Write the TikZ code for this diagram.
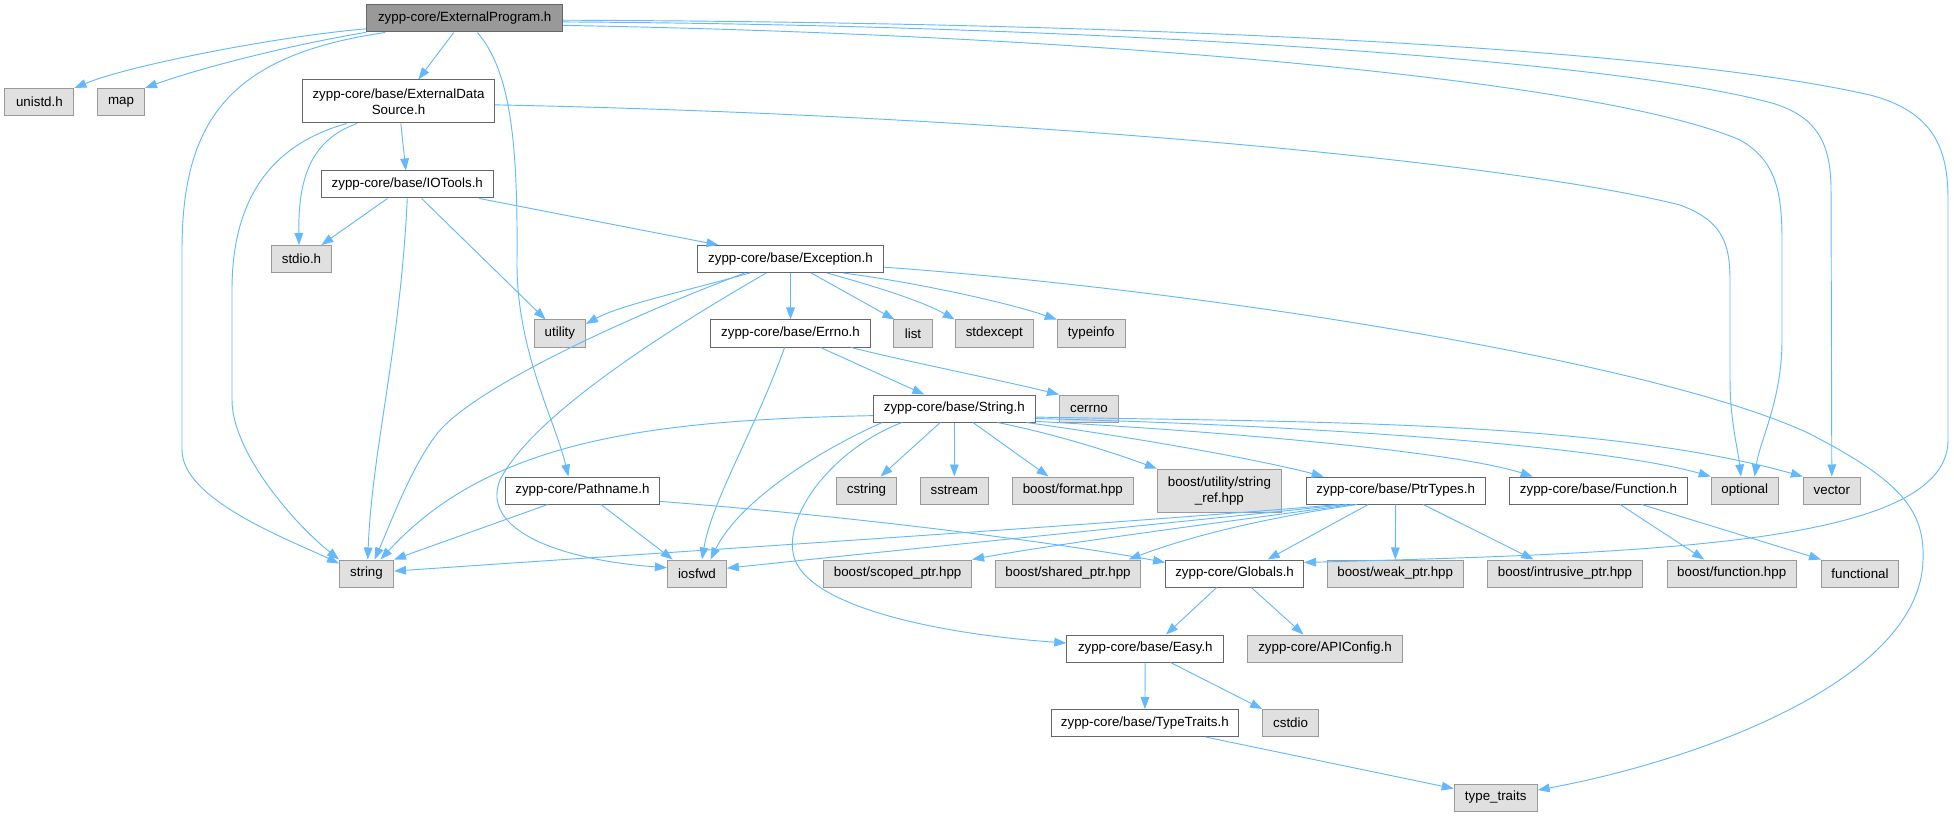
\documentclass[tikz,border=0pt]{standalone}
\usepackage{fontspec}
\setmainfont{Liberation Sans}
\usetikzlibrary{arrows.meta}
\definecolor{edgeblue}{HTML}{63B8FF}
\definecolor{rootfill}{HTML}{999999}
\definecolor{sysfill}{HTML}{E0E0E0}
\definecolor{hdrline}{HTML}{666666}
\definecolor{sysline}{HTML}{999999}
\tikzstyle{incgraph}=[x=0.75pt, y=-0.75pt, font=\fontsize{10}{12}\selectfont]
\tikzstyle{fnode}=[rectangle, inner sep=0pt, minimum height=20.25pt, align=center, line width=0.75pt]
\tikzstyle{root}=[fnode, draw=hdrline, fill=rootfill]
\tikzstyle{hdr}=[fnode, draw=hdrline, fill=white]
\tikzstyle{sys}=[fnode, draw=sysline, fill=sysfill]
\tikzstyle{twoline}=[minimum height=32.25pt]
\tikzstyle{inc}=[draw=edgeblue, line width=0.7pt, -{Triangle[length=9pt, width=6.5pt]}]

\begin{document}
\begin{tikzpicture}[incgraph]
		\useasboundingbox (0,0) rectangle (1954,816);
		%The root file
		\node[root, minimum width=147pt] (ep) at (464.7,18.5) {zypp-core/ExternalProgram.h};
		
		%The first levels
		\node[sys, minimum width=51.75pt] (unistd) at (39.4,102) {unistd.h};
		\node[sys, minimum width=35.25pt] (map) at (121,102) {map};
		\node[hdr, twoline, minimum width=144pt] (eds) at (398.5,101.5) {zypp-core/base/ExternalData\\Source.h};
		\node[hdr, minimum width=129pt] (iot) at (407.3,184.5) {zypp-core/base/IOTools.h};
		\node[sys, minimum width=45pt] (stdio) at (301.5,259) {stdio.h};
		\node[hdr, minimum width=139.5pt] (exc) at (790.5,259) {zypp-core/base/Exception.h};
		\node[sys, minimum width=38.25pt] (utility) at (559.9,333.5) {utility};
		\node[hdr, minimum width=120pt] (errno) at (790.5,333.5) {zypp-core/base/Errno.h};
		\node[sys, minimum width=29.25pt] (list) at (913,333.5) {list};
		\node[sys, minimum width=58.5pt] (stdexcept) at (994.3,333.5) {stdexcept};
		\node[sys, minimum width=51pt] (typeinfo) at (1091.3,333.5) {typeinfo};
		\node[hdr, minimum width=121.5pt] (str) at (954.3,408.5) {zypp-core/base/String.h};
		\node[sys, minimum width=44.25pt] (cerrno) at (1089,408.5) {cerrno};
		
		%The middle row
		\node[hdr, minimum width=115.5pt] (pathname) at (582.4,490.5) {zypp-core/Pathname.h};
		\node[sys, minimum width=45pt] (cstring) at (866.5,490.5) {cstring};
		\node[sys, minimum width=50.6pt] (sstream) at (954.3,490.5) {sstream};
		\node[sys, minimum width=91.1pt] (bformat) at (1072.8,490.5) {boost/format.hpp};
		\node[sys, twoline, minimum width=93pt] (strref) at (1219.4,490.7) {boost/utility/string\\\_ref.hpp};
		\node[hdr, minimum width=134.25pt] (ptr) at (1395.7,490.5) {zypp-core/base/PtrTypes.h};
		\node[hdr, minimum width=133.5pt] (func) at (1598.5,490.5) {zypp-core/base/Function.h};
		\node[sys, minimum width=50.25pt] (optional) at (1744.7,490.5) {optional};
		\node[sys, minimum width=42.75pt] (vector) at (1831.8,490.5) {vector};
		
		%The lower rows
		\node[sys, minimum width=40.5pt] (string) at (366.5,573.5) {string};
		\node[sys, minimum width=44.25pt] (iosfwd) at (696.9,573.5) {iosfwd};
		\node[sys, minimum width=111pt] (scoped) at (897.6,573.5) {boost/scoped\_ptr.hpp};
		\node[sys, minimum width=108.75pt] (shared) at (1068,573.5) {boost/shared\_ptr.hpp};
		\node[hdr, minimum width=103.5pt] (globals) at (1234.6,573.5) {zypp-core/Globals.h};
		\node[sys, minimum width=102pt] (weak) at (1395.2,573.5) {boost/weak\_ptr.hpp};
		\node[sys, minimum width=116.25pt] (intrusive) at (1564.9,573.5) {boost/intrusive\_ptr.hpp};
		\node[sys, minimum width=96.75pt] (bfunction) at (1731.7,573.5) {boost/function.hpp};
		\node[sys, minimum width=57.75pt] (functional) at (1860,573.5) {functional};
		\node[hdr, minimum width=117.75pt] (easy) at (1145.3,648.5) {zypp-core/base/Easy.h};
		\node[sys, minimum width=116.25pt] (apiconfig) at (1325,648.5) {zypp-core/APIConfig.h};
		\node[hdr, minimum width=140.25pt] (traits) at (1144.8,723) {zypp-core/base/TypeTraits.h};
		\node[sys, minimum width=42pt] (cstdio) at (1290.6,723) {cstdio};
		\node[sys, minimum width=62.25pt] (typetraits) at (1495.7,797.5) {type\_traits};
		
		%Includes of the root file
		\draw[inc] (ep.186) .. controls (280,36) and (130,65) .. (unistd.north east);
		\draw[inc] (ep.188) .. controls (290,45) and (200,68) .. (map.north east);
		\draw[inc] (ep.190) .. controls (230,55) and (182,120) .. (182,250) -- (182,450) .. controls (182,500) and (290,540) .. (string.160);
		\draw[inc] (ep.232) -- (eds.48);
		\draw[inc] (ep.312) .. controls (510,70) and (518,140) .. (517,260) .. controls (516,350) and (555,420) .. (pathname.135);
		\draw[inc] (ep.-4) .. controls (1100,35) and (1600,80) .. (1740,140) .. controls (1775,160) and (1782,190) .. (1782,240) -- (1782,340) .. controls (1782,400) and (1760,440) .. (optional.55);
		\draw[inc] (ep.-2.5) .. controls (1100,25) and (1600,60) .. (1760,100) .. controls (1815,112) and (1831,140) .. (1831,190) -- (vector.north);
		\draw[inc] (ep.-1) .. controls (1100,22) and (1650,45) .. (1870,95) .. controls (1935,112) and (1948,150) .. (1948,200) -- (1948,440) .. controls (1948,545) and (1650,553) .. (globals.9);
		
		%ExternalDataSource.h and IOTools.h
		\draw[inc] (eds) -- (iot);
		\draw[inc] (eds.208) .. controls (310,140) and (298,180) .. (stdio.100);
		\draw[inc] (eds.203) .. controls (270,145) and (232,200) .. (232,290) -- (232,400) .. controls (232,450) and (290,520) .. (string.north west);
		\draw[inc] (eds.-2) .. controls (1000,115) and (1500,160) .. (1680,205) .. controls (1720,220) and (1730,240) .. (1730,280) -- (1730,380) .. controls (1730,420) and (1738,450) .. (optional.105);
		\draw[inc] (iot) -- (stdio);
		\draw[inc] (iot.south) .. controls (400,350) and (372,450) .. (string.85);
		\draw[inc] (iot) -- (utility);
		\draw[inc] (iot) -- (exc);
		
		%Exception.h and Errno.h
		\draw[inc] (exc.199) .. controls (690,290) and (620,305) .. (utility.20);
		\draw[inc] (exc.197) .. controls (620,320) and (470,390) .. (436,435) .. controls (410,470) and (392,520) .. (string.60);
		\draw[inc] (exc.210) .. controls (650,340) and (530,420) .. (500,480) .. controls (480,530) and (560,560) .. (iosfwd.169);
		\draw[inc] (exc) -- (errno);
		\draw[inc] (exc.-34) -- (list.143);
		\draw[inc] (exc.-21) .. controls (870,285) and (920,300) .. (stdexcept.north west);
		\draw[inc] (exc.-15) .. controls (900,280) and (1000,300) .. (typeinfo.north west);
		\draw[inc] (exc.-5) .. controls (1200,290) and (1650,360) .. (1808,433) .. controls (1900,480) and (1925,510) .. (1923,560) .. controls (1920,680) and (1700,760) .. (typetraits.10);
		\draw[inc] (errno.247) .. controls (755,430) and (712,500) .. (iosfwd.70);
		\draw[inc] (errno.-25) -- (str.155);
		\draw[inc] (errno.-13) .. controls (900,360) and (1000,380) .. (cerrno.north west);
		
		%String.h
		\draw[inc] (str.185) .. controls (650,420) and (490,440) .. (string.45);
		\draw[inc] (str.191) .. controls (820,450) and (740,500) .. (iosfwd.46);
		\draw[inc] (str.195) .. controls (830,450) and (780,520) .. (795,560) .. controls (815,610) and (950,635) .. (easy.176);
		\draw[inc] (str.225) -- (cstring.45);
		\draw[inc] (str) -- (sstream);
		\draw[inc] (str.-37) -- (bformat.150);
		\draw[inc] (str.-18) .. controls (1060,435) and (1120,455) .. (strref.north west);
		\draw[inc] (str.-11) .. controls (1150,440) and (1260,460) .. (ptr.169);
		\draw[inc] (str.-9) .. controls (1200,430) and (1450,450) .. (func.168);
		\draw[inc] (str.-7.5) .. controls (1300,425) and (1600,445) .. (optional.north west);
		\draw[inc] (str.-6) .. controls (1300,422) and (1600,420) .. (vector.north west);
		
		%PtrTypes.h, Function.h and Pathname.h
		\draw[inc] (ptr.194) .. controls (1100,525) and (700,550) .. (string.5);
		\draw[inc] (ptr.196) .. controls (1100,530) and (850,555) .. (iosfwd.10);
		\draw[inc] (ptr.198) .. controls (1200,525) and (1050,545) .. (scoped.north east);
		\draw[inc] (ptr.200) .. controls (1250,520) and (1180,540) .. (shared.13);
		\draw[inc] (ptr.207) -- (globals.23);
		\draw[inc] (ptr) -- (weak);
		\draw[inc] (ptr.-27) -- (intrusive.156);
		\draw[inc] (func.-33) -- (bfunction.153);
		\draw[inc] (func.-18) -- (functional.north west);
		\draw[inc] (pathname.202) -- (string.north east);
		\draw[inc] (pathname.-37) -- (iosfwd.150);
		\draw[inc] (pathname.-8.5) .. controls (900,520) and (1100,550) .. (globals.171);
		
		%Globals.h and below
		\draw[inc] (globals.218) -- (easy.34);
		\draw[inc] (globals.-40) -- (apiconfig.147);
		\draw[inc] (easy) -- (traits);
		\draw[inc] (easy.-29) -- (cstdio.north west);
		\draw[inc] (traits.-13) -- (typetraits.168);
		\end{tikzpicture}
\end{document}
